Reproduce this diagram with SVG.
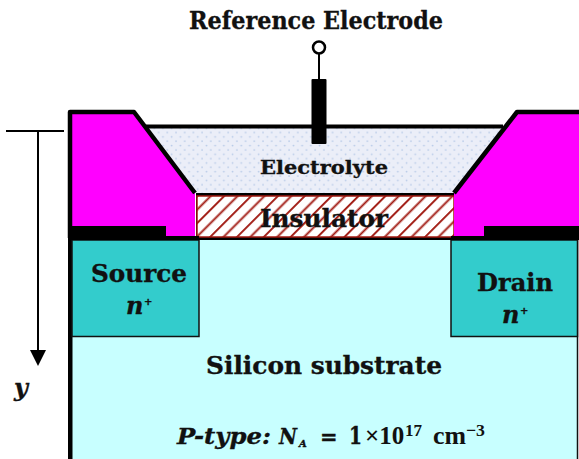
<svg xmlns="http://www.w3.org/2000/svg" width="579" height="459" viewBox="0 0 579 459">
<style>
text{font-family:"DejaVu Serif","Liberation Serif",serif;font-weight:700;fill:#111;stroke:#111;stroke-width:.35}
.i{font-style:italic}
.m{font-family:"Liberation Serif",serif;stroke-width:0}
</style>
<defs>
<pattern id="dots" width="8.700" height="8.700" patternUnits="userSpaceOnUse"><rect width="8.700" height="8.700" fill="#ebeef8"/><circle cx="2" cy="2" r=".9" fill="#b9cbe8"/><circle cx="6.350" cy="6.350" r=".9" fill="#b9cbe8"/></pattern>
<pattern id="hatch" width="19" height="19" patternUnits="userSpaceOnUse" patternTransform="translate(197 195) rotate(-45)"><rect width="19" height="19" fill="#fff"/><rect y="0" width="19" height="1.900" fill="#a01810"/><rect y="9.500" width="19" height="1.900" fill="#a01810"/></pattern>
</defs>
<g id="substrate"><rect x="70" y="239" width="507.500" height="222" fill="#c8ffff" stroke="#111" stroke-width="1.500"/><rect x="68" y="236" width="4.500" height="223" fill="#000"/></g>
<g id="source"><rect x="72" y="240" width="127" height="96.500" fill="#33cccc" stroke="#111" stroke-width="1.500"/><text x="139" y="282" text-anchor="middle" font-size="24" textLength="96" lengthAdjust="spacingAndGlyphs">Source</text><text x="126" y="314" class="i" font-size="24">n</text><text x="144" y="305" font-size="10">+</text></g>
<g id="drain"><rect x="451" y="240" width="126.500" height="96.500" fill="#33cccc" stroke="#111" stroke-width="1.500"/><text x="515" y="291" text-anchor="middle" font-size="24" textLength="76" lengthAdjust="spacingAndGlyphs">Drain</text><text x="502" y="323" class="i" font-size="24">n</text><text x="520" y="314" font-size="10">+</text></g>
<g id="electrolyte"><path d="M146 128H503L452 194H197Z" fill="url(#dots)"/><path d="M146 126.500H503" stroke="#000" stroke-width="4" fill="none"/><text x="324" y="174" text-anchor="middle" font-size="19" textLength="128" lengthAdjust="spacingAndGlyphs">Electrolyte</text></g>
<g id="insulator"><rect x="196" y="193" width="259" height="47" fill="#000"/><rect x="197" y="196" width="257" height="41" fill="url(#hatch)" stroke="#a01810" stroke-width="1.500"/><text x="324" y="227" text-anchor="middle" font-size="25" textLength="128" lengthAdjust="spacingAndGlyphs">Insulator</text></g>
<g id="left-contact"><path d="M70 112H134L195 193V238H70Z" fill="#f0f"/><path d="M70 238V112H134L195 193" fill="none" stroke="#000" stroke-width="4.500" stroke-linejoin="round"/><rect x="70" y="226" width="96" height="12" fill="#000"/><rect x="68" y="236" width="131" height="4" fill="#000"/></g>
<g id="right-contact"><path d="M581 112H517L454 193V238H581Z" fill="#f0f"/><path d="M581 112H517L454 193" fill="none" stroke="#000" stroke-width="4.500" stroke-linejoin="round"/><rect x="484" y="226" width="95" height="12" fill="#000"/><rect x="451" y="236" width="128" height="4" fill="#000"/></g>
<g id="reference-electrode"><text x="316" y="29" text-anchor="middle" font-size="25" textLength="254" lengthAdjust="spacingAndGlyphs">Reference Electrode</text><circle cx="319" cy="47.500" r="6" fill="#fff" stroke="#000" stroke-width="2.500"/><path d="M319 54V80" stroke="#000" stroke-width="2" fill="none"/><rect x="311.500" y="79" width="15" height="65" rx="1" fill="#000"/></g>
<g id="connectors"><path d="M6 131H64M38 131V352" stroke="#000" stroke-width="2" fill="none"/><path d="M30 350H46L38 366Z" fill="#000"/></g>
<g id="labels"><text x="14" y="396" class="i" font-size="24">y</text><text x="324" y="374" text-anchor="middle" font-size="25" textLength="236" lengthAdjust="spacingAndGlyphs">Silicon substrate</text><text x="177" y="444" class="i" font-size="23" textLength="94" lengthAdjust="spacingAndGlyphs">P-type:</text><text x="279" y="444" class="i" font-size="23" textLength="18" lengthAdjust="spacingAndGlyphs">N</text><text x="299" y="447" class="i" font-size="10">A</text><text x="320" y="444" font-size="21">=</text><text x="349" y="444" font-size="24" textLength="13" lengthAdjust="spacingAndGlyphs">1</text><text x="365" y="444" class="m" font-size="25">×10</text><text x="405" y="436" class="m" font-size="17">17</text><text x="433" y="444" class="m" font-size="25" textLength="33" lengthAdjust="spacingAndGlyphs">cm</text><text x="466" y="436" class="m" font-size="17" textLength="19" lengthAdjust="spacingAndGlyphs">−3</text></g>
</svg>
